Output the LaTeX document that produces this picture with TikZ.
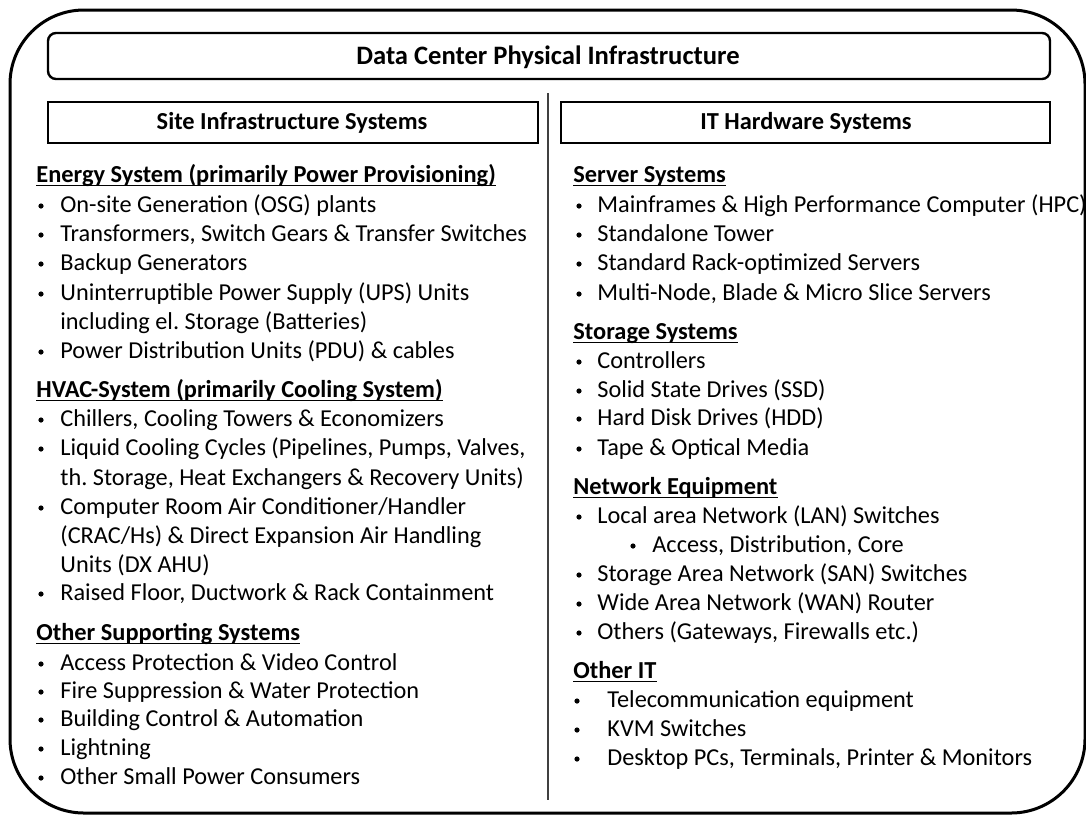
\documentclass[tikz,border=0pt]{standalone}
\usepackage{fontspec}
\setmainfont{Carlito}
\usepackage{tikz}
\frenchspacing
\tikzset{
    every node/.style={inner sep=0pt, font=\fontsize{12.15}{14}\selectfont},
    itm/.style={anchor=base west, yshift=-3.5pt},
    bul/.style={circle, fill, minimum size=2.6pt},
    sect/.style={anchor=base west, yshift=-3.5pt, font=\fontsize{12.2}{14}\selectfont\bfseries},
    uline/.style={line width=0.7pt},
    headbox/.style={draw, line width=1.3pt},
    headtxt/.style={font=\fontsize{12.2}{14}\selectfont\bfseries}
}

\begin{document}
\begin{tikzpicture}[x=0.5pt, y=-0.5pt]
        \useasboundingbox (0,0) rectangle (1086,816);
        % frame and title
        \draw[line width=1.5pt, rounded corners=37pt] (10,10) rectangle (1085,813);
        \draw[line width=1.2pt, rounded corners=4pt] (48,33) rectangle (1050,79);
        \node[font=\fontsize{13.3}{15}\selectfont\bfseries] (title) at (548,57) {Data Center Physical Infrastructure};
        \draw[headbox] (48,102) rectangle (538,143);
        \draw[headbox] (561,102) rectangle (1050,143);
        \node[headtxt] (site) at (292,123) {Site Infrastructure Systems};
        \node[headtxt] (it) at (806,123) {IT Hardware Systems};
        \coordinate (divtop) at (548,93);
        \coordinate (divbot) at (548,800);
        \draw[line width=0.8pt, black!75] (divtop) -- (divbot);

        % left column
        \node[sect] (s1) at (36,175) {Energy System (primarily Power Provisioning)};
        \node[sect] (s2) at (36,390) {HVAC-System (primarily Cooling System)};
        \node[sect] (s3) at (36,633) {Other Supporting Systems};
        \foreach [count=\i] \y/\t in {205/{On-site Generation (OSG) plants},
                234/{Transformers, Switch Gears \& Transfer Switches},
                263/{Backup Generators},
                293/{Uninterruptible Power Supply (UPS) Units},
                351/{Power Distribution Units (PDU) \& cables},
                419/{Chillers, Cooling Towers \& Economizers},
                448/{Liquid Cooling Cycles (Pipelines, Pumps, Valves,},
                507/{Computer Room Air Conditioner/Handler},
                593/{Raised Floor, Ductwork \& Rack Containment},
                663/{Access Protection \& Video Control},
                691/{Fire Suppression \& Water Protection},
                719/{Building Control \& Automation},
                748/{Lightning},
                777/{Other Small Power Consumers}} {
                \node[bul] (lb\i) at (41,\y+1) {};
                \node[itm] (li\i) at (60,\y) {\t};
        }
        \node[itm] (lc1) at (60,322) {including el. Storage (Batteries)};
        \node[itm] (lc2) at (60,478) {th. Storage, Heat Exchangers \& Recovery Units)};
        \node[itm] (lc3) at (60,536) {(CRAC/Hs) \& Direct Expansion Air Handling};
        \node[itm] (lc4) at (60,565) {Units (DX AHU)};

        % right column
        \node[sect] (r1) at (573,175) {Server Systems};
        \node[sect] (r2) at (573,332) {Storage Systems};
        \node[sect] (r3) at (573,487) {Network Equipment};
        \node[sect] (r4) at (573,671) {Other IT};
        \foreach [count=\i] \y/\t in {205/{Mainframes \& High Performance Computer (HPC)},
                234/{Standalone Tower},
                263/{Standard Rack-optimized Servers},
                293/{Multi-Node, Blade \& Micro Slice Servers},
                361/{Controllers},
                390/{Solid State Drives (SSD)},
                418/{Hard Disk Drives (HDD)},
                448/{Tape \& Optical Media},
                516/{Local area Network (LAN) Switches},
                574/{Storage Area Network (SAN) Switches},
                603/{Wide Area Network (WAN) Router},
                632/{Others (Gateways, Firewalls etc.)}} {
                \node[bul] (rb\i) at (579,\y+1) {};
                \node[itm] (ri\i) at (597,\y) {\t};
        }
        \node[bul] (rsb) at (633,546) {};
        \node[itm] (rs) at (652,545) {Access, Distribution, Core};
        \foreach [count=\i] \y/\t in {700/{Telecommunication equipment},
                729/{KVM Switches},
                758/{Desktop PCs, Terminals, Printer \& Monitors}} {
                \node[bul] (ob\i) at (577,\y+1) {};
                \node[itm] (oi\i) at (607,\y) {\t};
        }

        % underlines of the section titles
        \foreach \n in {s1,s2,s3,r1,r2,r3,r4}
                \draw[uline] ([yshift=-1.6pt]\n.base west) -- ([yshift=-1.6pt]\n.base east);
\end{tikzpicture}
\end{document}
